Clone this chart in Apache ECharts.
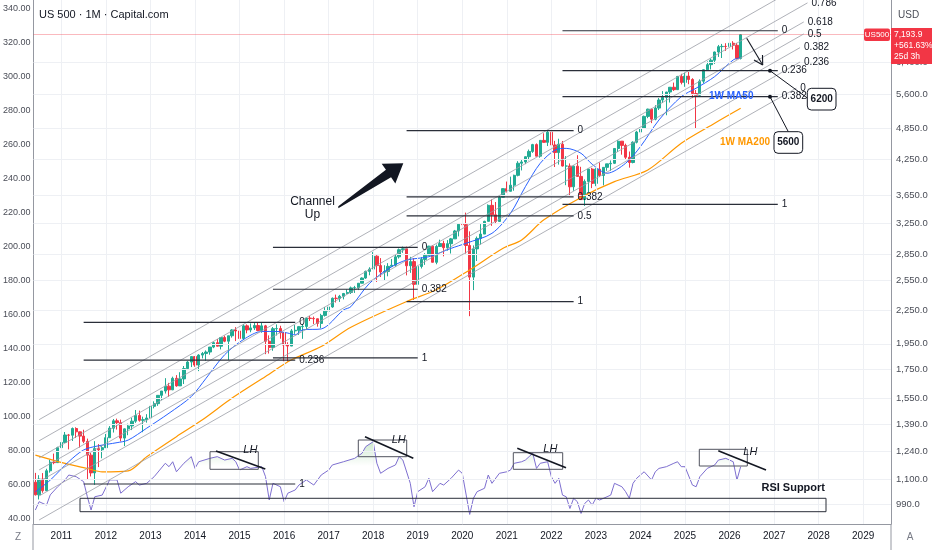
<!DOCTYPE html>
<html><head><meta charset="utf-8">
<script src="https://cdn.jsdelivr.net/npm/echarts@6/dist/echarts.min.js"></script>
<style>html,body{margin:0;padding:0;background:#fff}#c{width:932px;height:550px}</style>
</head><body><div id="c"></div>
<script>
const FONT = "'Liberation Sans',Arial,sans-serif";

// ---- Monthly candles [open, high, low, close] ----
const y2010 = [[1087.3,1131,1028,1031],[1031,1120,1011,1102],[1102,1130,1040,1049],[1049,1151,1048,1141],[1141,1196,1132,1183],[1183,1227,1173,1181],[1181,1263,1180,1258]];
const y2011 = [[1258,1302,1257,1286],[1286,1344,1284,1327],[1327,1333,1249,1326],[1326,1370,1294,1364],[1364,1371,1311,1345],[1345,1346,1259,1321],[1321,1357,1282,1292],[1292,1307,1101,1219],[1219,1230,1114,1131],[1131,1293,1075,1253],[1253,1277,1159,1247],[1247,1269,1203,1258]];
const y2012 = [[1258,1333,1258,1312],[1312,1378,1312,1366],[1366,1420,1341,1409],[1409,1422,1358,1398],[1398,1416,1292,1310],[1310,1364,1267,1362],[1362,1392,1326,1379],[1379,1427,1355,1407],[1407,1475,1397,1441],[1441,1471,1404,1412],[1412,1434,1343,1416],[1416,1449,1398,1426]];
const y2013 = [[1426,1510,1426,1498],[1498,1530,1485,1515],[1515,1570,1501,1569],[1569,1598,1537,1598],[1598,1687,1581,1631],[1631,1654,1560,1606],[1606,1698,1604,1686],[1686,1709,1627,1633],[1633,1730,1633,1682],[1682,1776,1646,1757],[1757,1814,1746,1806],[1806,1849,1768,1848]];
const y2014 = [[1848,1850,1770,1783],[1783,1867,1738,1860],[1860,1884,1834,1872],[1872,1897,1815,1884],[1884,1924,1863,1924],[1924,1968,1915,1960],[1960,1991,1930,1931],[1931,2005,1905,2003],[2003,2019,1964,1972],[1972,2018,1821,2018],[2018,2075,2002,2068],[2068,2093,1973,2059]];
const y2015 = [[2059,2072,1988,1995],[1995,2119,1981,2104],[2104,2117,2039,2068],[2068,2126,2048,2086],[2086,2135,2068,2107],[2107,2130,2057,2063],[2063,2133,2044,2104],[2104,2113,1867,1972],[1972,2021,1872,1920],[1920,2094,1894,2079],[2079,2117,2020,2080],[2080,2105,1993,2044]];
const y2016 = [[2044,2044,1812,1940],[1940,1963,1810,1932],[1932,2076,1932,2060],[2060,2111,2034,2065],[2065,2103,2025,2097],[2097,2121,1992,2099],[2099,2178,2074,2174],[2174,2194,2148,2171],[2171,2188,2120,2168],[2168,2169,2097,2126],[2126,2214,2084,2199],[2199,2278,2188,2239]];
const y2017 = [[2239,2301,2234,2279],[2279,2372,2271,2364],[2364,2401,2322,2363],[2363,2398,2328,2384],[2384,2418,2353,2412],[2412,2454,2405,2423],[2423,2484,2407,2470],[2470,2491,2418,2472],[2472,2520,2447,2519],[2519,2582,2519,2575],[2575,2657,2566,2648],[2648,2695,2605,2674]];
const y2018 = [[2674,2873,2674,2824],[2824,2836,2533,2714],[2714,2801,2586,2641],[2641,2718,2553,2648],[2648,2742,2594,2705],[2705,2791,2699,2718],[2718,2848,2699,2816],[2816,2917,2796,2902],[2902,2941,2864,2914],[2914,2940,2604,2712],[2712,2816,2632,2760],[2760,2800,2347,2507]];
const y2019 = [[2507,2708,2444,2704],[2704,2813,2681,2785],[2785,2860,2722,2834],[2834,2950,2834,2946],[2946,2954,2751,2752],[2752,2965,2729,2942],[2942,3028,2942,2980],[2980,3014,2822,2927],[2927,3022,2891,2977],[2977,3050,2856,3038],[3038,3155,3038,3141],[3141,3248,3070,3231]];
const y2020 = [[3231,3338,3214,3226],[3226,3394,2855,2954],[2954,3136,2192,2585],[2585,2955,2447,2912],[2912,3068,2767,3044],[3044,3233,2966,3100],[3100,3280,3100,3271],[3271,3514,3271,3500],[3500,3588,3210,3363],[3363,3550,3234,3270],[3270,3646,3270,3622],[3622,3760,3618,3756]];
const y2021 = [[3756,3870,3695,3714],[3714,3951,3714,3811],[3811,3984,3723,3973],[3973,4218,3956,4181],[4181,4239,4056,4204],[4204,4302,4165,4298],[4298,4430,4233,4395],[4395,4538,4368,4523],[4523,4546,4306,4308],[4308,4608,4279,4605],[4605,4744,4560,4567],[4567,4808,4496,4766]];
const y2022 = [[4766,4818,4223,4516],[4516,4595,4115,4374],[4374,4637,4157,4530],[4530,4593,4124,4132],[4132,4308,3811,4132],[4132,4178,3637,3785],[3785,4140,3722,4130],[4130,4325,3955,3955],[3955,4119,3585,3586],[3586,3905,3492,3872],[3872,4080,3698,4080],[4080,4101,3764,3840]];
const y2023 = [[3840,4095,3795,4077],[4077,4195,3943,3970],[3970,4110,3808,4109],[4109,4170,4049,4170],[4170,4231,4048,4180],[4180,4449,4167,4450],[4450,4607,4385,4589],[4589,4590,4335,4508],[4508,4541,4238,4288],[4288,4393,4104,4194],[4194,4587,4179,4568],[4568,4794,4546,4770]];
const y2024 = [[4770,4932,4682,4846],[4846,5112,4845,5096],[5096,5265,5057,5254],[5254,5264,4953,5036],[5036,5342,5012,5278],[5278,5506,5234,5461],[5461,5670,5391,5522],[5522,5652,5120,5648],[5648,5768,5403,5763],[5763,5878,5674,5705],[5705,6045,5697,6032],[6032,6100,5833,5882]];
const y2025 = [[5882,6129,5774,6041],[6041,6147,5837,5955],[5955,5987,5505,5612],[5612,5695,4835,5569],[5569,5958,5557,5912],[5912,6215,5862,6205],[6205,6427,6201,6339],[6339,6508,6213,6460],[6460,6699,6360,6688],[6688,6890,6550,6840],[6840,6920,6520,6849],[6849,6940,6720,6845]];
const y2026 = [[6845,7000,6790,6940],[6940,7000,6760,6880],[6880,6950,6480,6509],[6509,7215,6480,7193.9]];

// ---- Indicator lines [month, value] ----
const ma50 = [['2010-06',1044],['2010-10',1097],['2011-03',1186],['2011-07',1246],['2011-11',1268],['2012-04',1285],['2012-07',1299],['2012-12',1366],['2013-06',1455],['2013-12',1561],['2014-04',1687],['2014-09',1863],['2015-02',1985],['2015-07',2055],['2015-11',2055],['2016-02',2041],['2016-04',2026],['2016-06',2069],['2016-11',2077],['2017-05',2250],['2017-07',2282],['2017-12',2518],['2018-06',2701],['2018-10',2778],['2019-04',2818],['2019-10',2919],['2020-02',2982],['2020-09',3110],['2021-02',3385],['2021-06',3787],['2021-10',4180],['2022-02',4421],['2022-05',4452],['2022-09',4360],['2022-12',4163],['2023-04',4008],['2023-09',4180],['2024-01',4485],['2024-06',5020],['2024-12',5539],['2025-04',5740],['2025-09',6028],['2026-02',6467],['2026-04',6530]];
const ma200 = [['2010-06',1219],['2011-02',1177],['2011-08',1152],['2011-12',1136],['2012-07',1141],['2012-12',1211],['2013-08',1318],['2014-03',1415],['2014-11',1551],['2015-08',1699],['2016-03',1823],['2016-11',1928],['2017-07',2092],['2018-10',2332],['2019-06',2450],['2020-03',2665],['2020-12',2920],['2021-05',3024],['2021-11',3292],['2022-09',3619],['2023-06',3868],['2024-03',4064],['2024-12',4550],['2025-09',4950],['2026-04',5272]];
const rsi = [['2010-06',45.1],['2010-07',50],['2010-09',48],['2010-10',54],['2010-12',58.8],['2011-02',62.8],['2011-03',65.7],['2011-05',64.7],['2011-07',61.8],['2011-08',52.9],['2011-09',45.1],['2011-10',52.9],['2011-12',53.9],['2012-02',62.8],['2012-04',62.8],['2012-05',55],['2012-07',58.8],['2012-09',61.8],['2012-10',59.8],['2012-12',60.8],['2013-02',64.7],['2013-05',72.6],['2013-06',70.6],['2013-07',73.5],['2013-08',67.6],['2013-10',72.6],['2013-12',76.5],['2014-01',69.6],['2014-02',73.5],['2014-05',75.5],['2014-07',76.5],['2014-09',74.5],['2014-11',75.5],['2014-12',73.5],['2015-01',68.6],['2015-03',70.6],['2015-04',69.6],['2015-07',70.6],['2015-08',64.7],['2015-09',51],['2015-10',60.8],['2015-12',58.8],['2016-01',50],['2016-02',55],['2016-04',56.9],['2016-05',59.8],['2016-07',62.8],['2016-09',59.8],['2016-11',65.7],['2017-01',68.6],['2017-02',71.6],['2017-05',73.5],['2017-08',75.5],['2017-10',78.5],['2017-11',82.4],['2018-01',85.3],['2018-02',72.6],['2018-03',66.7],['2018-05',69.6],['2018-07',71.6],['2018-08',76.5],['2018-09',74.5],['2018-11',60.8],['2018-12',47],['2019-01',55.9],['2019-03',58.8],['2019-04',63.8],['2019-05',55.9],['2019-07',60.8],['2019-08',59.8],['2019-10',63.8],['2019-12',68.6],['2020-01',66.7],['2020-03',42.5],['2020-04',52],['2020-05',55.9],['2020-07',57.9],['2020-08',65.7],['2020-09',60.8],['2020-11',66.7],['2021-01',67.6],['2021-02',68.6],['2021-03',72.6],['2021-05',73.5],['2021-06',74.5],['2021-07',76.5],['2021-08',78.5],['2021-09',69.6],['2021-10',72.6],['2021-12',73.5],['2022-01',64.7],['2022-02',60.8],['2022-03',63.8],['2022-04',53.9],['2022-05',52.9],['2022-06',46],['2022-07',52],['2022-08',50],['2022-09',43.1],['2022-10',49],['2022-11',51],['2022-12',48],['2023-01',52],['2023-02',51],['2023-04',52.9],['2023-05',53.9],['2023-06',60.8],['2023-08',58.8],['2023-09',55.9],['2023-10',52],['2023-11',60.8],['2023-12',63.8],['2024-02',67.6],['2024-04',62.8],['2024-05',67.6],['2024-06',69.6],['2024-08',70.6],['2024-10',72.6],['2024-11',73.5],['2024-12',70.6],['2025-01',70.6],['2025-03',59.8],['2025-04',58.8],['2025-05',64.7],['2025-07',69.6],['2025-09',71.6],['2025-10',74.5],['2025-12',75.5],['2026-02',73.5],['2026-03',62.8],['2026-04',70.6]];

// ---- Drawings: Fibonacci channel ----
const channelLabels = ['0','0.236','0.382','0.5','0.618','0.786','1'];
const channelStart = ['2010-07','2010-07','2010-07','2010-07','2010-07','2010-07','2010-07'];
const channelStartPrice = [927,1026,1090,1145,1205,1295,1416];
const channelEnd = ['2027-07','2027-08','2027-08','2027-09','2027-09','2027-10','2027-10'];
const channelEndPrice = [5742,6411,6813,7218,7593,8229,8999];

// ---- Drawings: Fibonacci retracements ----
const fibARange = ['2011-07','2016-04'], fibALabels = ['0','0.236','1'], fibAPrices = [2135,1820,1079];
const fibBRange = ['2015-10','2019-01'], fibBLabels = ['0','0.382','1'], fibBPrices = [2930,2456,1838];
const fibCRange = ['2018-10','2022-07'], fibCLabels = ['0','0.382','0.5','1'], fibCPrices = [4800,3627,3347,2330];
const fibDRange = ['2022-04','2027-02'], fibDLabels = ['0','0.236','0.382','1'], fibDPrices = [7316,6180,5538,3513];

// ---- Axis ticks ----
const priceTicks = [990,1100,1240,1390,1550,1750,1950,2250,2550,2850,3250,3650,4250,4850,5600,6400];
const leftTicks = [40,60,80,100,120,140,160,180,200,220,240,260,280,300,320,340];
const lastPrice = 7193.9;

// month categories June 2010 .. Aug 2029
const months = [];
for (let k = 0; k < 231; k++) {
  const yr = 2010 + Math.floor((5 + k) / 12), m = (5 + k) % 12 + 1;
  months.push(yr + '-' + (m < 10 ? '0' + m : m));
}
const candles = [].concat(y2010,y2011,y2012,y2013,y2014,y2015,y2016,y2017,y2018,y2019,y2020,y2021,y2022,y2023,y2024,y2025,y2026)
  .map(d => [d[0], d[3], d[2], d[1]]);

const fmtPrice = v => Number(v).toLocaleString('en-US',{minimumFractionDigits:1,maximumFractionDigits:1});

function seg(a, b, pa, pb, color, width, label) {
  return {
    type:'line', yAxisIndex:1, data:[[a,pa],[b,pb]], symbol:'none', silent:true, z:5,
    lineStyle:{color:color, width:width}, emphasis:{disabled:true},
    endLabel: label != null ? {show:true, formatter:label, color:'#131722', fontSize:10, fontFamily:FONT, distance:4} : {show:false}
  };
}

const series = [];
series.push({
  type:'line', yAxisIndex:1, data:[], z:0, silent:true,
  markLine:{
    silent:true, symbol:['none','none'], animation:false,
    lineStyle:{color:'#eef0f4', width:1, type:'solid'},
    label:{show:true, position:'end', formatter:p => fmtPrice(p.value), color:'#4a4d57', fontSize:9.5, fontFamily:FONT, distance:5},
    data: priceTicks.map(p => ({yAxis:p}))
      .concat(months.filter(m => m.endsWith('-01')).map(m => ({xAxis:m, label:{show:false}})))
      .concat([{yAxis:lastPrice, lineStyle:{color:'rgba(242,54,69,0.35)', width:1, type:'solid'}, label:{show:false}}])
  }
});
series.push({
  type:'candlestick', yAxisIndex:1, data:candles, barWidth:'76%', z:2,
  itemStyle:{color:'#22ab94', color0:'#f23645', borderColor:'#22ab94', borderColor0:'#f23645', borderWidth:1}
});
series.push({type:'line', yAxisIndex:1, data:ma200, smooth:0.3, symbol:'none', z:3, lineStyle:{color:'#ff9800', width:1.2}});
series.push({type:'line', yAxisIndex:1, data:ma50, smooth:0.3, symbol:'none', z:3, lineStyle:{color:'#2962ff', width:1}});
series.push({
  type:'line', yAxisIndex:0, data:rsi, symbol:'none', z:3, lineStyle:{color:'#7e6fd0', width:1},
  areaStyle:{origin:70, color:{type:'linear', x:0, y:438, x2:0, y2:466, global:true,
    colorStops:[{offset:0,color:'rgba(76,175,80,0.45)'},{offset:1,color:'rgba(76,175,80,0)'}]}}
});
for (let i = 0; i < channelLabels.length; i++) {
  series.push(seg(channelStart[i], channelEnd[i], channelStartPrice[i], channelEndPrice[i], '#9a9da6', 0.8,
    channelLabels[i] === '1' ? null : channelLabels[i]));
}
[[fibARange,fibALabels,fibAPrices],[fibBRange,fibBLabels,fibBPrices],[fibCRange,fibCLabels,fibCPrices],[fibDRange,fibDLabels,fibDPrices]]
  .forEach(([r, labs, prices]) => {
    for (let i = 0; i < labs.length; i++) series.push(seg(r[0], r[1], prices[i], prices[i], '#2a2e39', 1.2, labs[i]));
  });

const T = (text, x, y, o) => {
  o = o || {};
  return {type:'text', x:x, y:y, z:101, silent:true, style:{text:text, fill:o.fill||'#131722',
    font:(o.style||'normal')+' '+(o.weight||'normal')+' '+(o.size||11)+'px '+FONT,
    textAlign:o.align||'left', textVerticalAlign:'middle'}};
};
const L = (x1,y1,x2,y2,c,w) => ({type:'line', z:100, silent:true, shape:{x1,y1,x2,y2}, style:{stroke:c||'#131722', lineWidth:w||1}});
const R = (x,y,w,h,o) => { o=o||{}; return {type:'rect', z:o.z||99, silent:true, shape:{x,y,width:w,height:h,r:o.r||0}, style:{fill:o.fill||'transparent', stroke:o.stroke||null, lineWidth:o.lw||1}}; };

const ux = 0.822, uy = -0.569, nx = 0.569, ny = 0.822;
const tip = [403.3,163.3], bc = [tip[0]-18*ux, tip[1]-18*uy];
const bigArrow = {type:'polygon', z:100, silent:true, shape:{points:[
  [338.3,208.3],[bc[0]+4.5*nx,bc[1]+4.5*ny],[bc[0]+12*nx,bc[1]+12*ny],tip,[bc[0]-12*nx,bc[1]-12*ny],[bc[0]-4.5*nx,bc[1]-4.5*ny],[338.3,206.3]
]}, style:{fill:'#131722'}};

const graphics = [
  T('US 500 · 1M · Capital.com', 39, 15, {size:11}),
  T('USD', 898, 15, {size:10, fill:'#4a4d57'}),
  R(864,28.5,26,12.5,{fill:'#f23645', r:2}),
  T('US500', 877, 34.8, {size:8, fill:'#fff', align:'center'}),
  R(891,28,41,36,{fill:'#f23645'}),
  T('7,193.9', 894, 34.5, {size:8.5, fill:'#fff'}),
  T('+561.63%', 894, 46, {size:8.5, fill:'#fff'}),
  T('25d 3h', 894, 57, {size:8.5, fill:'#fff'}),
  T('Channel', 312.5, 201.5, {size:12, align:'center'}),
  T('Up', 312.5, 214.5, {size:12, align:'center'}),
  bigArrow,
  L(746.7,38.3,762.7,65,'#131722',1.1), L(762.5,55,762.7,65,'#131722',1.1), L(754,60.1,762.7,65,'#131722',1.1),
  T('1W MA50', 709, 96.5, {size:10, weight:'bold', fill:'#2962ff'}),
  T('1W MA200', 720, 142, {size:10, weight:'bold', fill:'#ff9800'}),
  L(770,70.7,807.3,98,'#131722',1), {type:'circle', z:100, shape:{cx:770,cy:70.7,r:2}, style:{fill:'#131722'}},
  R(807.3,88.3,28.7,21.7,{stroke:'#131722', fill:'#fff', r:4, z:100}), T('6200', 821.7, 99.3, {size:10, weight:'bold', align:'center'}),
  L(770,96.7,788.3,131.7,'#131722',1), {type:'circle', z:100, shape:{cx:770,cy:96.7,r:2}, style:{fill:'#131722'}},
  R(774,131.7,28.7,21.6,{stroke:'#131722', fill:'#fff', r:4, z:100}), T('5600', 788.3, 142.6, {size:10, weight:'bold', align:'center'}),
  R(210,451.7,48.3,17.6,{stroke:'#50535e'}), L(216,451,265.3,469,'#131722',1.6), T('LH', 243.3, 450, {size:11, style:'italic'}),
  R(358.3,440,48.4,16.7,{stroke:'#50535e'}), L(365,436.7,413.3,458.3,'#131722',1.6), T('LH', 391.7, 439.5, {size:11, style:'italic'}),
  R(513.3,452.7,49.4,16.6,{stroke:'#50535e'}), L(517.3,448.3,566,467.7,'#131722',1.6), T('LH', 543.3, 448.5, {size:11, style:'italic'}),
  R(699.3,449.3,48,16.7,{stroke:'#50535e'}), L(718.3,450.7,766,470,'#131722',1.6), T('LH', 743.3, 452, {size:11, style:'italic'}),
  R(80,498.3,746,13.4,{stroke:'#2a2e39'}),
  T('RSI Support', 825, 488, {size:11, weight:'bold', align:'right'}),
  T('Z', 18, 537, {size:10, fill:'#787b86', align:'center'}),
  T('A', 910, 537, {size:10, fill:'#787b86', align:'center'}),
  L(891,524,891,550,'#9598a1',1), L(33,524,33,550,'#9598a1',1)
];

const chart = echarts.init(document.getElementById('c'));
chart.setOption({
  animation:false,
  backgroundColor:'#ffffff',
  grid:{left:33, right:41, top:0, bottom:26, containLabel:false},
  xAxis:{
    type:'category', data:months, boundaryGap:true,
    axisLine:{show:true, onZero:false, lineStyle:{color:'#9598a1'}},
    axisTick:{show:false}, splitLine:{show:false},
    axisLabel:{interval:(i,v) => v.endsWith('-01'), formatter:v => v.slice(0,4), color:'#131722', fontSize:10, fontFamily:FONT, margin:7, hideOverlap:false}
  },
  yAxis:[
    {type:'value', position:'left', min:36.88, max:345.12,
     axisLine:{show:true, lineStyle:{color:'#9598a1'}}, axisTick:{show:false}, splitLine:{show:false},
     axisLabel:{customValues:leftTicks, formatter:v => Number(v).toFixed(2), color:'#4a4d57', fontSize:9, fontFamily:FONT, margin:3}},
    {type:'log', logBase:10, position:'right', min:911.4, max:8330,
     axisLine:{show:true, lineStyle:{color:'#9598a1'}}, axisTick:{show:false}, splitLine:{show:false}, axisLabel:{show:false}}
  ],
  series:series,
  graphic:{elements:graphics}
});
</script></body></html>
